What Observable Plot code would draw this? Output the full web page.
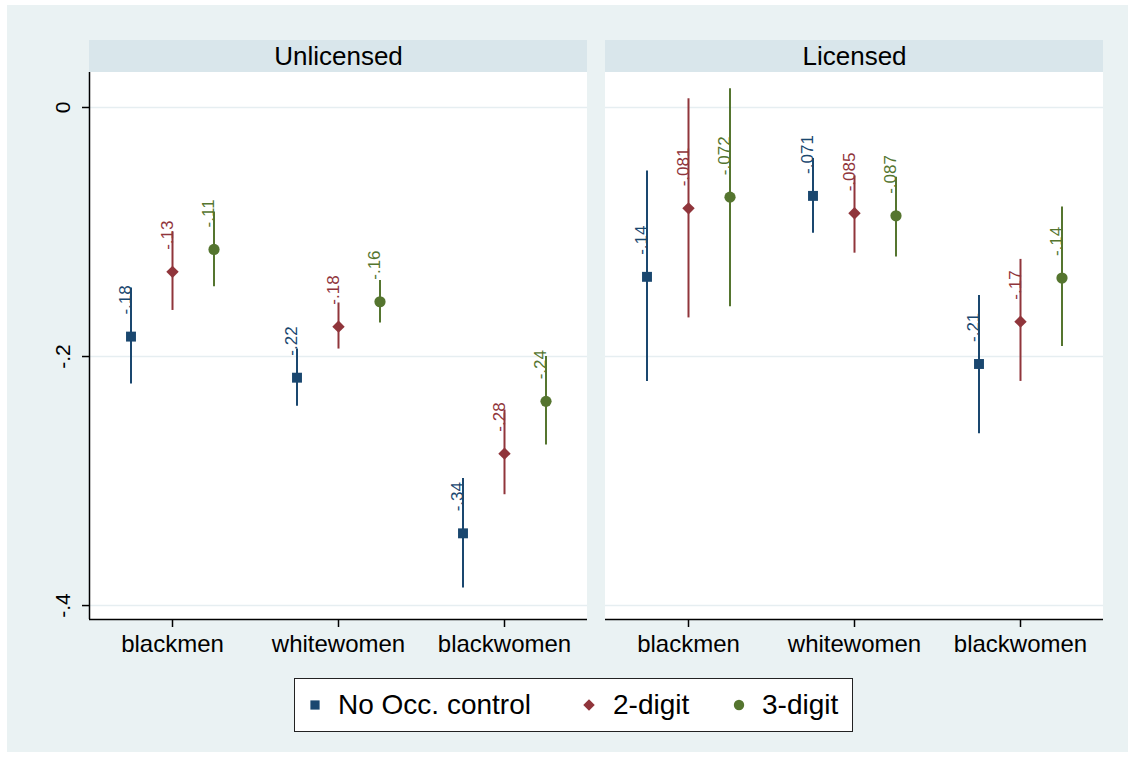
<!DOCTYPE html>
<html><head><meta charset="utf-8">
<script src="https://cdn.jsdelivr.net/npm/d3@7"></script>
<script src="https://cdn.jsdelivr.net/npm/@observablehq/plot@0.6"></script>
<style>
body{margin:0;background:#fff;font-family:"Liberation Sans",Arial,sans-serif;}
#wrap{position:absolute;left:7px;top:5px;width:1121px;height:747px;background:#eaf2f3;}
#chart{position:absolute;left:0;top:0;}
#legend{position:absolute;left:287px;top:673px;width:557px;height:52px;background:#fff;border:1.5px solid #222;}
#legend .it{position:absolute;top:0;height:52px;line-height:52px;font-size:28px;color:#000;white-space:nowrap;}
#legend svg{position:absolute;}
</style></head><body>
<div id="wrap"><div id="chart"></div><div id="legend"></div></div>
<script>
const panels = ["Unlicensed", "Licensed"];
const groups = ["blackmen", "whitewomen", "blackwomen"];
const series = ["No Occ. control", "2-digit", "3-digit"];
const colors = ["#1a476f", "#90353b", "#55752f"];
const symbols = ["square", "diamond2", "circle"];
const yTicks = [0, -0.2, -0.4];
const yTickLabels = ["0", "-.2", "-.4"];

// values by [group][series]
const estUnlicensed = [[-0.184, -0.132, -0.114], [-0.217, -0.176, -0.156], [-0.342, -0.278, -0.236]];
const loUnlicensed  = [[-0.222, -0.163, -0.144], [-0.240, -0.194, -0.173], [-0.386, -0.311, -0.271]];
const hiUnlicensed  = [[-0.145, -0.100, -0.084], [-0.194, -0.157, -0.139], [-0.298, -0.243, -0.200]];
const estLicensed   = [[-0.136, -0.081, -0.072], [-0.071, -0.085, -0.087], [-0.206, -0.172, -0.137]];
const loLicensed    = [[-0.220, -0.169, -0.160], [-0.101, -0.117, -0.120], [-0.262, -0.220, -0.192]];
const hiLicensed    = [[-0.051, 0.007, 0.015], [-0.041, -0.055, -0.056], [-0.151, -0.122, -0.080]];

const est = [estUnlicensed, estLicensed];
const lo = [loUnlicensed, loLicensed];
const hi = [hiUnlicensed, hiLicensed];

const fmt = v => d3.format(".2")(v).replace("\u2212", "-").replace("0.", ".");

const rows = [];
panels.forEach((p, pi) => groups.forEach((g, gi) => series.forEach((s, si) => {
  rows.push({panel: p, group: g, gi, series: s, si,
    est: est[pi][gi][si], lo: lo[pi][gi][si], hi: hi[pi][gi][si],
    label: fmt(est[pi][gi][si])});
})));

const Y_BOTTOM = -0.4112, PANEL_TOP = 0.0281, Y_TOP = 0.0538;
const xDomain = [-0.5, 2.5];
const xpos = d => d.gi + (d.si - 1) * 0.25;

const chart = Plot.plot({
  width: 1121, height: 665,
  marginLeft: 82, marginRight: 25, marginTop: 35, marginBottom: 51,
  style: {background: "transparent", fontFamily: "'Liberation Sans', Arial, sans-serif", overflow: "visible"},
  fx: {domain: panels, paddingInner: 18 / 516, paddingOuter: 0, axis: null, label: null},
  x: {domain: xDomain, axis: null},
  y: {domain: [Y_BOTTOM, Y_TOP], axis: null},
  color: {domain: series, range: colors},
  symbol: {domain: series, range: symbols},
  marks: [
    Plot.rect(panels, {fx: d => d, y1: () => Y_BOTTOM, y2: () => PANEL_TOP, fill: "#ffffff"}),
    Plot.rect(panels, {fx: d => d, y1: () => PANEL_TOP, y2: () => Y_TOP, fill: "#d9e6eb"}),
    Plot.text(panels, {fx: d => d, y: () => (PANEL_TOP + Y_TOP) / 2, text: d => d, frameAnchor: "middle", fontSize: 26, fill: "#000"}),
    Plot.ruleY(yTicks, {stroke: "#e6eef1", strokeWidth: 1.5}),
    Plot.ruleX([panels[0]], {fx: d => d, x: () => xDomain[0], y1: () => Y_BOTTOM, y2: () => PANEL_TOP, stroke: "#000", strokeWidth: 1.5}),
    Plot.axisY(yTicks, {tickSize: 7, fill: "none", stroke: "#000", strokeWidth: 1.5}),
    Plot.text(yTicks.map((v, i) => ({v, label: yTickLabels[i], panel: panels[0]})), {
      fx: "panel", y: "v", text: "label", frameAnchor: "left", dx: -26, rotate: -90,
      textAnchor: "middle", lineAnchor: "middle", fontSize: 21, fill: "#000"}),
    Plot.ruleY([Y_BOTTOM], {stroke: "#000", strokeWidth: 1.5}),
    Plot.axisX([0, 1, 2], {tickSize: 8, tickPadding: 7, tickFormat: i => groups[i], fontSize: 24, stroke: "#000", strokeWidth: 1.5, fill: "#000", label: null}),
    Plot.ruleX(rows, {fx: "panel", x: xpos, y1: "lo", y2: "hi", stroke: "series", strokeWidth: 2}),
    Plot.dot(rows, {fx: "panel", x: xpos, y: "est", symbol: "series", fill: "series", stroke: "none", r: 5.6}),
    Plot.text(rows, {fx: "panel", x: xpos, y: "est", text: "label", fill: "series", rotate: -90,
      textAnchor: "start", lineAnchor: "bottom", dy: -22, fontSize: 17})
  ]
});
document.getElementById("chart").appendChild(chart);

// legend
const legend = document.getElementById("legend");
const items = [
  {x: 20, text: 43},
  {x: 294, text: 318},
  {x: 444, text: 467}
];
series.forEach((s, i) => {
  const sym = d3.symbol().type([d3.symbolSquare, d3.symbolDiamond2, d3.symbolCircle][i]).size(5.2 * 5.2 * Math.PI)();
  const svg = document.createElementNS("http://www.w3.org/2000/svg", "svg");
  svg.setAttribute("width", 20); svg.setAttribute("height", 20);
  svg.style.left = (items[i].x - 10) + "px";
  svg.style.top = (26 - 10) + "px";
  const path = document.createElementNS("http://www.w3.org/2000/svg", "path");
  path.setAttribute("d", sym);
  path.setAttribute("transform", "translate(10,10)");
  path.setAttribute("fill", colors[i]);
  svg.appendChild(path);
  legend.appendChild(svg);
  const t = document.createElement("div");
  t.className = "it";
  t.style.left = items[i].text + "px";
  t.textContent = s;
  legend.appendChild(t);
});
</script>
</body></html>
